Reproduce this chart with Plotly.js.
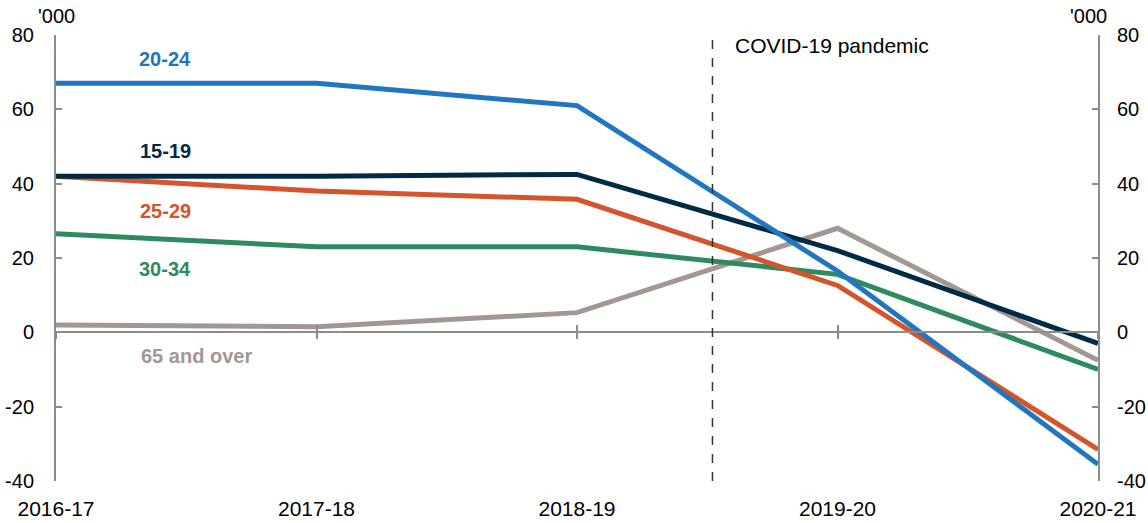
<!DOCTYPE html>
<html>
<head>
<meta charset="utf-8">
<script src="https://cdn.plot.ly/plotly-3.0.1.min.js"></script>
<style>
  html, body { margin: 0; padding: 0; background: #fff; }
  #chart { width: 1148px; height: 523px; }
</style>
</head>
<body>
<div id="chart"></div>
<script>
// Financial years
var years = ["2016-17", "2017-18", "2018-19", "2019-20", "2020-21"];

// Change in employment by age group, '000
var age15to19 = [42, 42, 42.5, 22, -3];
var age20to24 = [67, 67, 61, 16.5, -35.5];
var age25to29 = [42, 38, 35.8, 12.6, -31.5];
var age30to34 = [26.5, 23, 23, 15.6, -10];
var age65plus = [2, 1.5, 5.3, 28, -7.5];

var yTicks = [-40, -20, 0, 20, 40, 60, 80];
var yTickText = ["-40", "-20", "0", "20", "40", "60", "80"];
var covidLabel = "COVID-19 pandemic";

var font = "Liberation Sans, Arial, sans-serif";
var axisGrey = "#8c8c8c";

function series(name, values, color) {
    return {
        x: years,
        y: values,
        name: name,
        type: "scatter",
        mode: "lines",
        line: { color: color, width: 5 },
        hoverinfo: "skip"
    };
}

var data = [
    series("65 and over", age65plus, "#a39793"),
    series("30-34", age30to34, "#2e8a5f"),
    series("25-29", age25to29, "#d4542c"),
    series("15-19", age15to19, "#002b47"),
    series("20-24", age20to24, "#2176c0"),
    // helpers so the extra axes get drawn
    { x: [0, 4], y: [0, 0], xaxis: "x2", yaxis: "y2", mode: "none", hoverinfo: "skip", showlegend: false },
    { x: [0, 4], y: [0, 0], xaxis: "x3", yaxis: "y2", mode: "none", hoverinfo: "skip", showlegend: false }
];

// zero-line axis with ticks crossing it
function zeroAxis(tickSide) {
    return {
        overlaying: "x",
        anchor: "free",
        position: 40 / 120,
        range: [0, 4],
        tickvals: [0, 1, 2, 3, 4],
        ticks: tickSide,
        ticklen: 6,
        tickwidth: 2,
        tickcolor: axisGrey,
        showline: true,
        linecolor: axisGrey,
        linewidth: 2,
        showgrid: false,
        zeroline: false,
        showticklabels: false,
        fixedrange: true
    };
}

function valueAxis(side) {
    var ax = {
        range: [-40, 80],
        tickvals: yTicks,
        ticktext: yTickText,
        ticks: "inside",
        ticklen: 6,
        tickwidth: 2,
        tickcolor: axisGrey,
        showline: true,
        linecolor: axisGrey,
        linewidth: 2,
        showgrid: false,
        zeroline: false,
        ticklabelstandoff: side === "right" ? 13 : 16,
        tickfont: { family: font, size: 20, color: "#000000" },
        fixedrange: true
    };
    if (side === "right") {
        ax.overlaying = "y";
        ax.side = "right";
    }
    return ax;
}

function labelAnn(text, x, y, color) {
    return {
        x: x, y: y, xref: "x", yref: "y",
        text: "<b>" + text + "</b>",
        showarrow: false,
        font: { family: font, size: 20, color: color }
    };
}

var layout = {
    width: 1148,
    height: 523,
    margin: { l: 56, r: 50, t: 35, b: 42 },
    paper_bgcolor: "#ffffff",
    plot_bgcolor: "#ffffff",
    showlegend: false,
    font: { family: font, size: 20, color: "#000000" },
    xaxis: {
        type: "category",
        range: [0, 4],
        showline: false,
        showgrid: false,
        zeroline: false,
        ticks: "",
        ticklabelstandoff: 13,
        tickfont: { family: font, size: 21, color: "#000000" },
        fixedrange: true
    },
    xaxis2: zeroAxis("outside"),
    xaxis3: zeroAxis("inside"),
    yaxis: valueAxis("left"),
    yaxis2: valueAxis("right"),
    shapes: [
        {
            type: "line",
            xref: "x", yref: "paper",
            x0: 2.52, x1: 2.52, y0: 0, y1: 1,
            line: { color: "#333333", width: 1.5, dash: "dash" }
        }
    ],
    annotations: [
        labelAnn("20-24", 0.42, 73.5, "#2176c0"),
        labelAnn("15-19", 0.42, 48.7, "#002b47"),
        labelAnn("25-29", 0.42, 32.6, "#d4542c"),
        labelAnn("30-34", 0.42, 17, "#2e8a5f"),
        labelAnn("65 and over", 0.54, -6.5, "#a39793"),
        {
            x: 2.6, y: 77.2, xref: "x", yref: "y",
            xanchor: "left",
            text: covidLabel,
            showarrow: false,
            font: { family: font, size: 21, color: "#000000" }
        },
        {
            x: 0, y: 1, xref: "paper", yref: "paper",
            xanchor: "center", yanchor: "bottom", yshift: 6,
            text: "'000", showarrow: false,
            font: { family: font, size: 20, color: "#000000" }
        },
        {
            x: 1, y: 1, xref: "paper", yref: "paper",
            xanchor: "center", yanchor: "bottom", yshift: 6, xshift: -10,
            text: "'000", showarrow: false,
            font: { family: font, size: 20, color: "#000000" }
        }
    ]
};

Plotly.newPlot("chart", data, layout, { displayModeBar: false, staticPlot: true });
</script>
</body>
</html>
